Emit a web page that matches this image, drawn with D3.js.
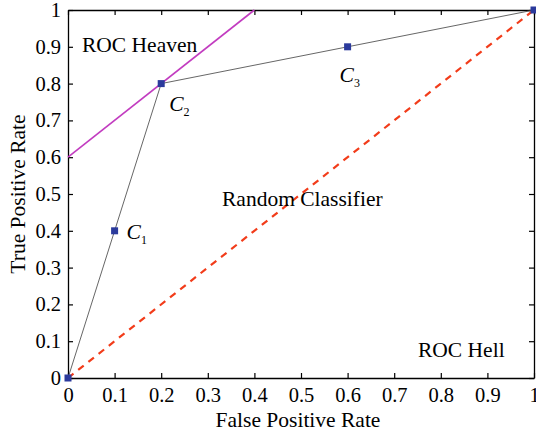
<!DOCTYPE html>
<html><head><meta charset="utf-8">
<script src="https://cdn.jsdelivr.net/npm/d3@7"></script>
<style>body{margin:0;background:#fff}svg text{font-family:"Liberation Serif","Times New Roman",serif;}</style>
</head><body><svg id="c" width="536" height="433"></svg>
<script>
const ticks = [0,0.1,0.2,0.3,0.4,0.5,0.6,0.7,0.8,0.9,1];
const hullX = [0,0.1,0.2,0.6,1];
const hullY = [0,0.4,0.8,0.9,1];
const pointX = [0,0.1,0.2,0.6,1];
const pointY = [0,0.4,0.8,0.9,1];
const pointLabels = ["", "1", "2", "3", ""];
const isoX = [0,0.4];
const isoY = [0.6,1];
const diagX = [0,1];
const diagY = [0,1];

const svg = d3.select("#c");
const m = {l:68, r:534, t:10, b:378};
const x = d3.scaleLinear().domain([0,1]).range([m.l,m.r]);
const y = d3.scaleLinear().domain([0,1]).range([m.b,m.t]);
const fmt = d => d===0?"0":(d===1?"1":d3.format(".1f")(d));
const FS = 21.5;
const TFS = 20.5;

// axes
const ax = svg.append("g");
ax.append("g").attr("transform",`translate(0,${m.b})`).call(d3.axisBottom(x).tickValues(ticks).tickFormat(fmt).tickSizeInner(-5).tickSizeOuter(0).tickPadding(9));
ax.append("g").attr("transform",`translate(0,${m.t})`).call(d3.axisTop(x).tickValues(ticks).tickFormat("").tickSizeInner(-5).tickSizeOuter(0));
ax.append("g").attr("transform",`translate(${m.l},0)`).call(d3.axisLeft(y).tickValues(ticks).tickFormat(fmt).tickSizeInner(-5).tickSizeOuter(0).tickPadding(7));
ax.append("g").attr("transform",`translate(${m.r},0)`).call(d3.axisRight(y).tickValues(ticks).tickFormat("").tickSizeInner(-5).tickSizeOuter(0));
ax.selectAll(".domain").attr("stroke","#000").attr("stroke-width",1.3);
ax.selectAll(".tick line").attr("stroke","#000").attr("stroke-width",1.2);
ax.selectAll(".tick text").attr("font-size",TFS).attr("fill","#000").attr("font-family","Liberation Serif");

// diagonal
const line = d3.line().x(d=>x(d[0])).y(d=>y(d[1]));
svg.append("path").attr("d",line(diagX.map((v,i)=>[v,diagY[i]])))
  .attr("stroke","#f23c1a").attr("stroke-width",2.2).attr("stroke-dasharray","7,6").attr("fill","none");
// iso line
svg.append("path").attr("d",line(isoX.map((v,i)=>[v,isoY[i]])))
  .attr("stroke","#c23cc0").attr("stroke-width",1.6).attr("fill","none");
// hull
svg.append("path").attr("d",line(hullX.map((v,i)=>[v,hullY[i]])))
  .attr("stroke","#555").attr("stroke-width",0.9).attr("fill","none");
// points
svg.selectAll("rect.pt").data(pointX.map((v,i)=>[v,pointY[i]])).enter().append("rect")
  .attr("x",d=>x(d[0])-3.5).attr("y",d=>y(d[1])-3.5).attr("width",7).attr("height",7)
  .attr("fill","#2b3a9c");

// point labels
const lblOff = [[0,0],[12,8],[8,27],[-8,35],[0,0]];
pointX.forEach((v,i)=>{
  if(!pointLabels[i]) return;
  const t = svg.append("text").attr("x",x(v)+lblOff[i][0]).attr("y",y(pointY[i])+lblOff[i][1])
    .attr("font-size",FS).attr("font-style","italic").text("C");
  t.append("tspan").attr("font-size",12).attr("font-style","normal").attr("dy",5).text(pointLabels[i]);
});

svg.append("text").attr("x",82).attr("y",52).attr("font-size",FS).text("ROC Heaven");
svg.append("text").attr("x",418).attr("y",357).attr("font-size",FS).text("ROC Hell");
svg.append("text").attr("x",222).attr("y",206).attr("font-size",FS).text("Random Classifier");
svg.append("text").attr("x",(m.l+m.r)/2 - 3).attr("y",427).attr("text-anchor","middle").attr("font-size",FS).text("False Positive Rate");
svg.append("text").attr("transform",`translate(25,${(m.t+m.b)/2}) rotate(-90)`).attr("text-anchor","middle").attr("font-size",FS).text("True Positive Rate");
</script></body></html>
